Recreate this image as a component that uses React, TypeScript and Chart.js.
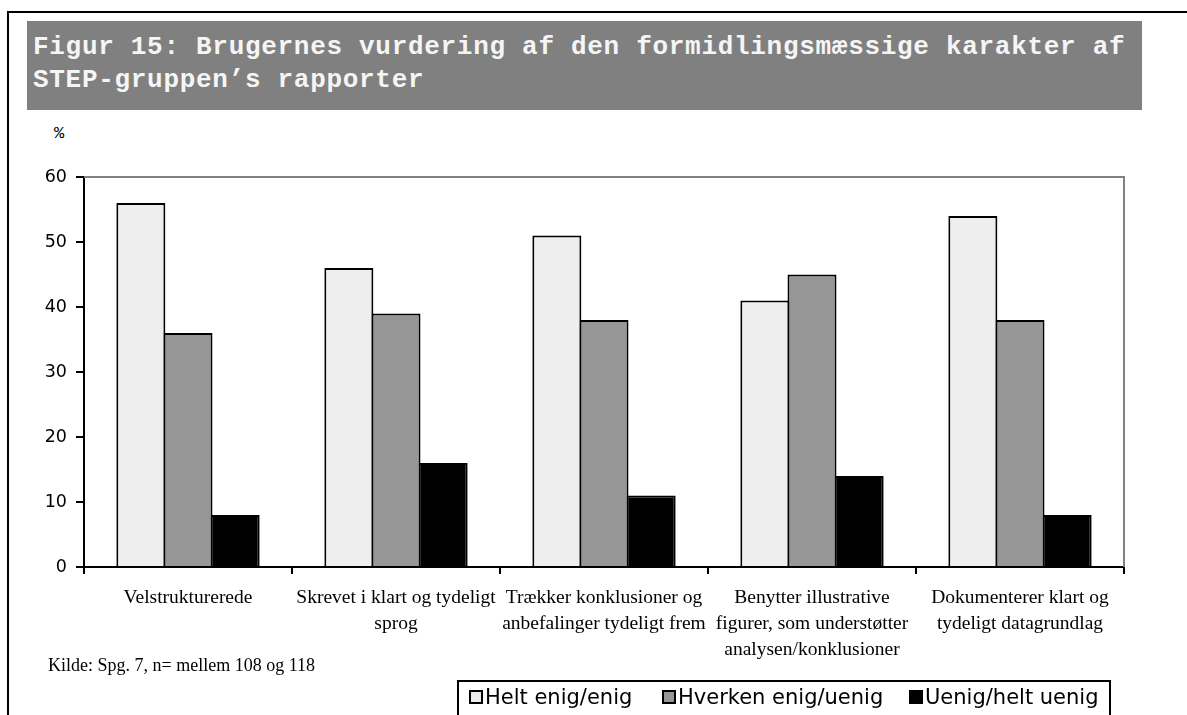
import React, { useEffect, useRef } from "react";
import { Chart, registerables } from "chart.js";

Chart.register(...registerables);

const categories: string[][] = [
  ["Velstrukturerede"],
  ["Skrevet i klart og tydeligt", "sprog"],
  ["Trækker konklusioner og", "anbefalinger tydeligt frem"],
  ["Benytter illustrative", "figurer, som understøtter", "analysen/konklusioner"],
  ["Dokumenterer klart og", "tydeligt datagrundlag"],
];
const heltEnig = [56, 46, 51, 41, 54];
const hverken = [36, 39, 38, 45, 38];
const uenig = [8, 16, 11, 14, 8];
const seriesNames = ["Helt enig/enig", "Hverken enig/uenig", "Uenig/helt uenig"];
const seriesColors = ["#eeeeee", "#969696", "#000000"];
const yMin = 0;
const yMax = 60;
const yStep = 10;
const titleLines = [
  "Figur 15: Brugernes vurdering af den formidlingsmæssige karakter af",
  "STEP-gruppen’s rapporter",
];
const yUnit = "%";
const sourceText = "Kilde: Spg. 7, n= mellem 108 og 118";

const legendPos = [469, 662, 909];

export default function App() {
  const ref = useRef<HTMLCanvasElement>(null);

  useEffect(() => {
    const frame = {
      id: "plotFrame",
      afterDraw(chart: any) {
        const { ctx, chartArea: a } = chart;
        ctx.save();
        ctx.strokeStyle = "#808080";
        ctx.lineWidth = 2;
        ctx.beginPath();
        ctx.moveTo(a.left, a.top);
        ctx.lineTo(a.right, a.top);
        ctx.lineTo(a.right, a.bottom);
        ctx.stroke();
        ctx.restore();
      },
    };
    const series = [heltEnig, hverken, uenig];
    const chart = new Chart(ref.current!, {
      type: "bar",
      data: {
        labels: categories,
        datasets: series.map((d, i) => ({
          label: seriesNames[i],
          data: d,
          backgroundColor: seriesColors[i],
          borderColor: "#000000",
          borderWidth: 2,
          categoryPercentage: 0.68,
          barPercentage: 1.04,
        })),
      },
      options: {
        animation: false,
        responsive: true,
        maintainAspectRatio: false,
        layout: { padding: { left: 44, top: 177, right: 63, bottom: 38 } },
        plugins: {
          legend: { display: false },
          tooltip: { enabled: false },
        },
        scales: {
          x: {
            grid: {
              offset: true,
              drawOnChartArea: false,
              drawTicks: true,
              tickLength: 7,
              color: "#000000",
              lineWidth: 2,
            },
            border: { display: true, color: "#000000", width: 2 },
            ticks: {
              color: "#000000",
              font: {
                family: "'Liberation Serif', 'Times New Roman', serif",
                size: 19.5,
                lineHeight: 1.333,
              },
              padding: 11,
              maxRotation: 0,
              minRotation: 0,
              autoSkip: false,
            },
            afterFit: (s: any) => {
              s.height = 110;
            },
          },
          y: {
            min: yMin,
            max: yMax,
            ticks: {
              stepSize: yStep,
              color: "#000000",
              font: { family: "'DejaVu Sans', sans-serif", size: 17.5 },
              padding: 9,
            },
            grid: {
              drawOnChartArea: false,
              drawTicks: true,
              tickLength: 8,
              color: "#000000",
              lineWidth: 2,
            },
            border: { display: true, color: "#000000", width: 2 },
            afterFit: (s: any) => {
              s.width = 40;
            },
          },
        },
      },
      plugins: [frame],
    });
    return () => chart.destroy();
  }, []);

  return (
    <div
      style={{
        position: "absolute",
        left: 0,
        top: 0,
        width: 1187,
        height: 715,
        overflow: "hidden",
        background: "#ffffff",
      }}
    >
      <div
        style={{
          position: "absolute",
          left: 7,
          top: 11,
          width: 1180,
          height: 704,
          borderTop: "2px solid #000",
          borderLeft: "2px solid #000",
          boxSizing: "border-box",
        }}
      />
      <div
        style={{
          position: "absolute",
          left: 27,
          top: 21,
          width: 1115,
          height: 89,
          background: "#808080",
        }}
      >
        <div
          style={{
            position: "absolute",
            left: 6,
            top: 10,
            fontFamily: "'Liberation Mono', 'Courier New', monospace",
            fontWeight: "bold",
            fontSize: 26,
            lineHeight: "33px",
            letterSpacing: "0.7px",
            color: "#f5f5f5",
            whiteSpace: "pre",
          }}
        >
          {titleLines.map((l, i) => (
            <div key={i}>{l}</div>
          ))}
        </div>
      </div>
      <div
        style={{
          position: "absolute",
          left: 54,
          top: 124,
          fontFamily: "'Liberation Mono', 'Courier New', monospace",
          fontSize: 17,
          lineHeight: "20px",
          color: "#000",
        }}
      >
        {yUnit}
      </div>
      <div style={{ position: "absolute", left: 0, top: 0, width: 1187, height: 715 }}>
        <canvas ref={ref} />
      </div>
      <div
        style={{
          position: "absolute",
          left: 48,
          top: 655,
          fontFamily: "'Liberation Serif', 'Times New Roman', serif",
          fontSize: 18,
          lineHeight: "20px",
          color: "#000",
          whiteSpace: "pre",
        }}
      >
        {sourceText}
      </div>
      <div
        style={{
          position: "absolute",
          left: 457,
          top: 680,
          width: 654,
          height: 40,
          border: "2px solid #000",
          boxSizing: "border-box",
        }}
      />
      {seriesNames.map((n, i) => (
        <React.Fragment key={n}>
          <div
            style={{
              position: "absolute",
              left: legendPos[i],
              top: 690,
              width: 14,
              height: 14,
              boxSizing: "border-box",
              border: "2px solid #000",
              background: seriesColors[i],
            }}
          />
          <div
            style={{
              position: "absolute",
              left: legendPos[i] + 16,
              top: 685,
              fontFamily: "'DejaVu Sans', sans-serif",
              fontSize: 21,
              lineHeight: "25px",
              color: "#000",
              whiteSpace: "pre",
            }}
          >
            {n}
          </div>
        </React.Fragment>
      ))}
    </div>
  );
}
